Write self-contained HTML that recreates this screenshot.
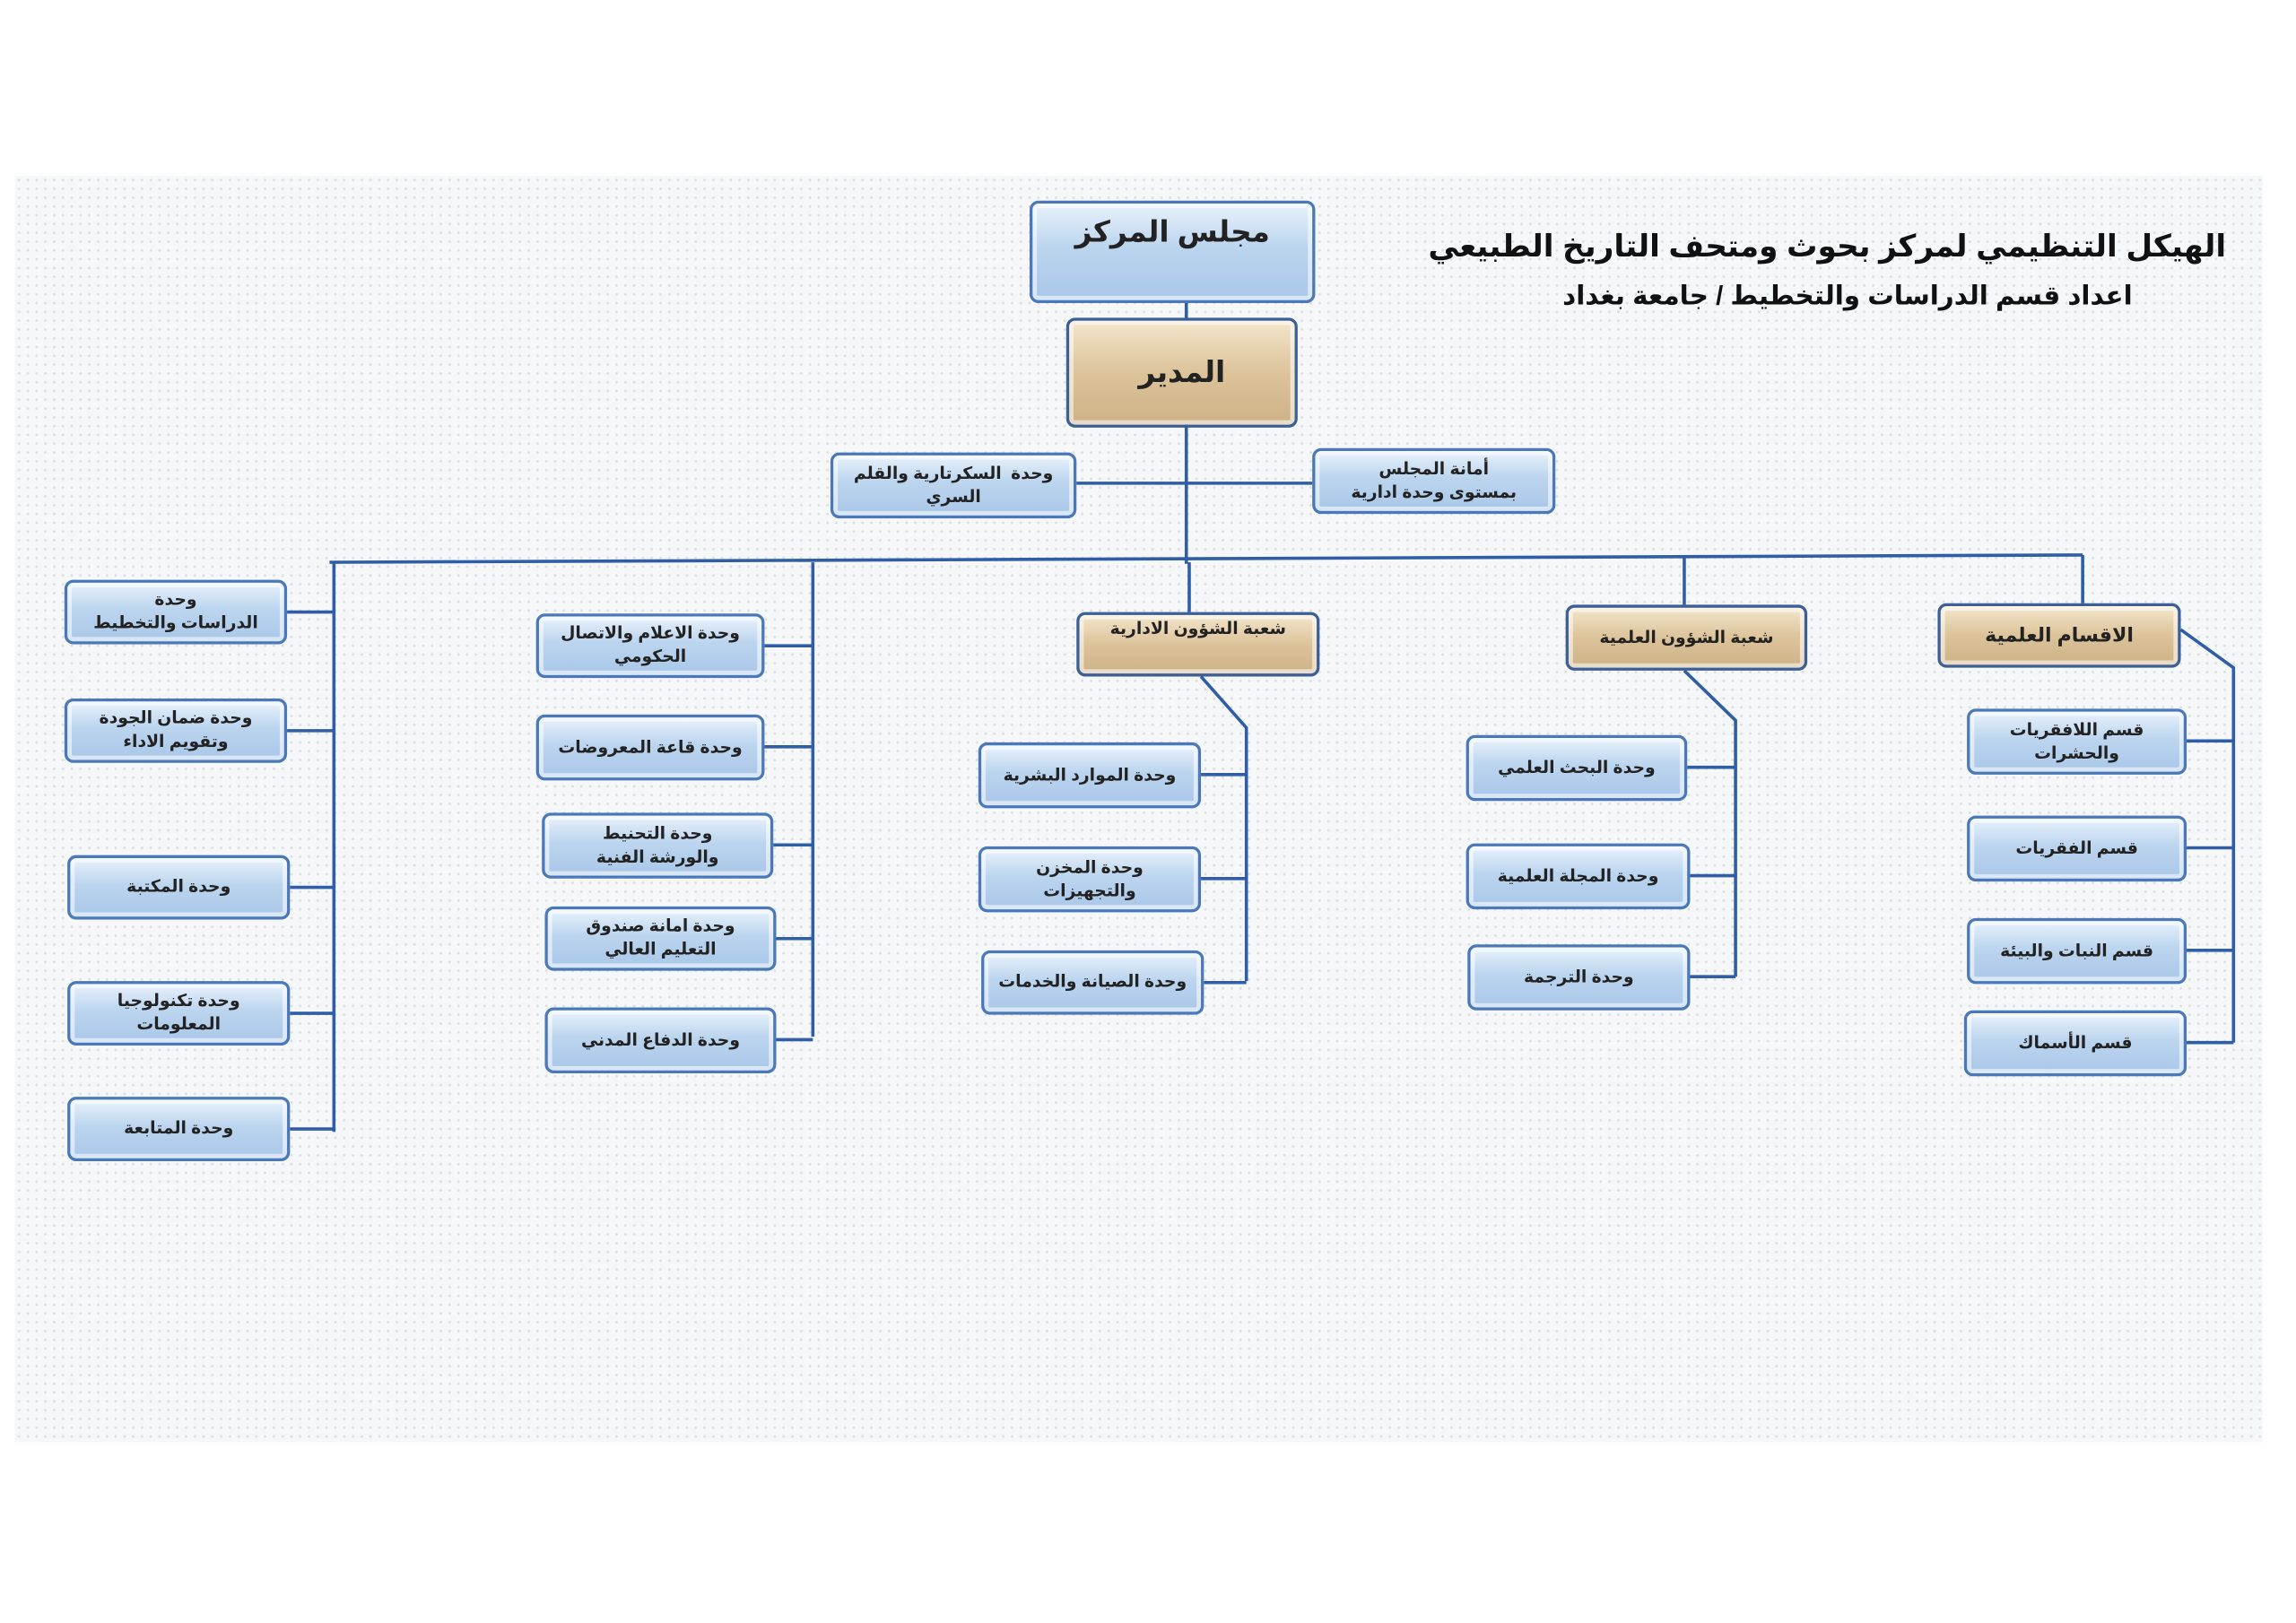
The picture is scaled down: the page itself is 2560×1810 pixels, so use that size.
<!DOCTYPE html>
<html><head><meta charset="utf-8">
<style>
html,body{margin:0;padding:0;background:#fff;}
body{width:2560px;height:1810px;overflow:hidden;position:relative;}
#w{position:absolute;left:0;top:0;width:1568px;height:1108px;transform:scale(1.633);transform-origin:0 0;font-family:"Liberation Sans","Noto Sans CJK SC","DejaVu Sans",sans-serif;}
.bg{position:absolute;left:10px;top:120px;width:1535px;height:865px;background-color:#f6f7f8;background-image:radial-gradient(#dcdfe3 0.8px,transparent 1px);background-size:6px 6px;}
.b{position:absolute;box-sizing:border-box;border:2px solid #4a78b8;border-radius:6px;background:linear-gradient(#e9f2fb 0%,#bcd5ef 45%,#a9c7e8 100%);box-shadow:inset 0 0 0 3px rgba(255,255,255,.55);direction:rtl;text-align:center;font-weight:bold;color:#222;font-size:11.5px;letter-spacing:-0.2px;line-height:16px;display:flex;align-items:center;justify-content:center;padding:2px 3px;}
.n{white-space:nowrap;}
.t{background:linear-gradient(#f3e6cc 0%,#dcc39a 50%,#cdb286 100%);border-color:#3c5f96;}
.title{position:absolute;direction:rtl;font-weight:bold;color:#111;white-space:nowrap;}
svg{position:absolute;left:0;top:0;}
</style></head><body><div id="w">
<div class="bg"></div>
<svg width="1568" height="1108" fill="none" stroke="#2f5ea6" stroke-width="2.2">
<path d="M810 207V385"/>
<path d="M735 330H896"/>
<path d="M225 384L1422 379"/>
<path d="M228 384V773"/>
<path d="M196 418H228M196 499H228M198 606H228M198 692H228M198 771H228"/>
<path d="M555 384V708"/>
<path d="M522 441H555M522 510H555M528 577H555M530 641H555M530 710H555"/>
<path d="M812 384V418"/>
<path d="M820 462L851 497V670"/>
<path d="M820 529H851M820 600H851M822 671H851"/>
<path d="M1150 380V413"/>
<path d="M1150 458L1185 492V667"/>
<path d="M1152 524H1185M1154 598H1185M1154 667H1185"/>
<path d="M1422 379V412"/>
<path d="M1489 430L1525 456V712"/>
<path d="M1493 506H1525M1493 579H1525M1493 649H1525M1493 712H1525"/>
</svg>
<div class="title" style="right:48px;top:156px;font-size:21px;">الهيكل التنظيمي لمركز بحوث ومتحف التاريخ الطبيعي</div>
<div class="title" style="right:112px;top:192px;font-size:18px;">اعداد قسم الدراسات والتخطيط / جامعة بغداد</div>

<div class="b" style="left:703px;top:137px;width:195px;height:70px;font-size:20px;align-items:flex-start;padding-top:12px;">مجلس المركز</div>
<div class="b t" style="left:728px;top:217px;width:158px;height:75px;font-size:20px;">المدير</div>
<div class="b" style="left:567px;top:309px;width:168px;height:45px;">وحدة &nbsp;السكرتارية والقلم<br>السري</div>
<div class="b" style="left:896px;top:306px;width:166px;height:45px;">أمانة المجلس<br>بمستوى وحدة ادارية</div>

<div class="b" style="left:44px;top:396px;width:152px;height:44px;">وحدة<br>الدراسات والتخطيط</div>
<div class="b" style="left:44px;top:477px;width:152px;height:44px;">وحدة ضمان الجودة<br>وتقويم الاداء</div>
<div class="b n" style="left:46px;top:584px;width:152px;height:44px;">وحدة المكتبة</div>
<div class="b" style="left:46px;top:670px;width:152px;height:44px;">وحدة تكنولوجيا<br>المعلومات</div>
<div class="b n" style="left:46px;top:749px;width:152px;height:44px;">وحدة المتابعة</div>

<div class="b" style="left:366px;top:419px;width:156px;height:44px;">وحدة الاعلام والاتصال<br>الحكومي</div>
<div class="b n" style="left:366px;top:488px;width:156px;height:45px;">وحدة قاعة المعروضات</div>
<div class="b" style="left:370px;top:555px;width:158px;height:45px;">وحدة التحنيط<br>والورشة الفنية</div>
<div class="b" style="left:372px;top:619px;width:158px;height:44px;">وحدة امانة صندوق<br>التعليم العالي</div>
<div class="b n" style="left:372px;top:688px;width:158px;height:45px;">وحدة الدفاع المدني</div>

<div class="b t n" style="left:735px;top:418px;width:166px;height:44px;align-items:flex-start;">شعبة الشؤون الادارية</div>
<div class="b n" style="left:668px;top:507px;width:152px;height:45px;">وحدة الموارد البشرية</div>
<div class="b" style="left:668px;top:578px;width:152px;height:45px;">وحدة المخزن<br>والتجهيزات</div>
<div class="b n" style="left:670px;top:649px;width:152px;height:44px;">وحدة الصيانة والخدمات</div>

<div class="b t n" style="left:1069px;top:413px;width:165px;height:45px;">شعبة الشؤون العلمية</div>
<div class="b n" style="left:1001px;top:502px;width:151px;height:45px;">وحدة البحث العلمي</div>
<div class="b n" style="left:1001px;top:576px;width:153px;height:45px;">وحدة المجلة العلمية</div>
<div class="b n" style="left:1002px;top:645px;width:152px;height:45px;">وحدة الترجمة</div>

<div class="b t n" style="left:1323px;top:412px;width:166px;height:44px;font-size:13.5px;">الاقسام العلمية</div>
<div class="b" style="left:1343px;top:484px;width:150px;height:45px;">قسم اللافقريات<br>والحشرات</div>
<div class="b n" style="left:1343px;top:557px;width:150px;height:45px;">قسم الفقريات</div>
<div class="b n" style="left:1343px;top:627px;width:150px;height:45px;">قسم النبات والبيئة</div>
<div class="b n" style="left:1341px;top:690px;width:152px;height:45px;">قسم الأسماك</div>
</div></body></html>
